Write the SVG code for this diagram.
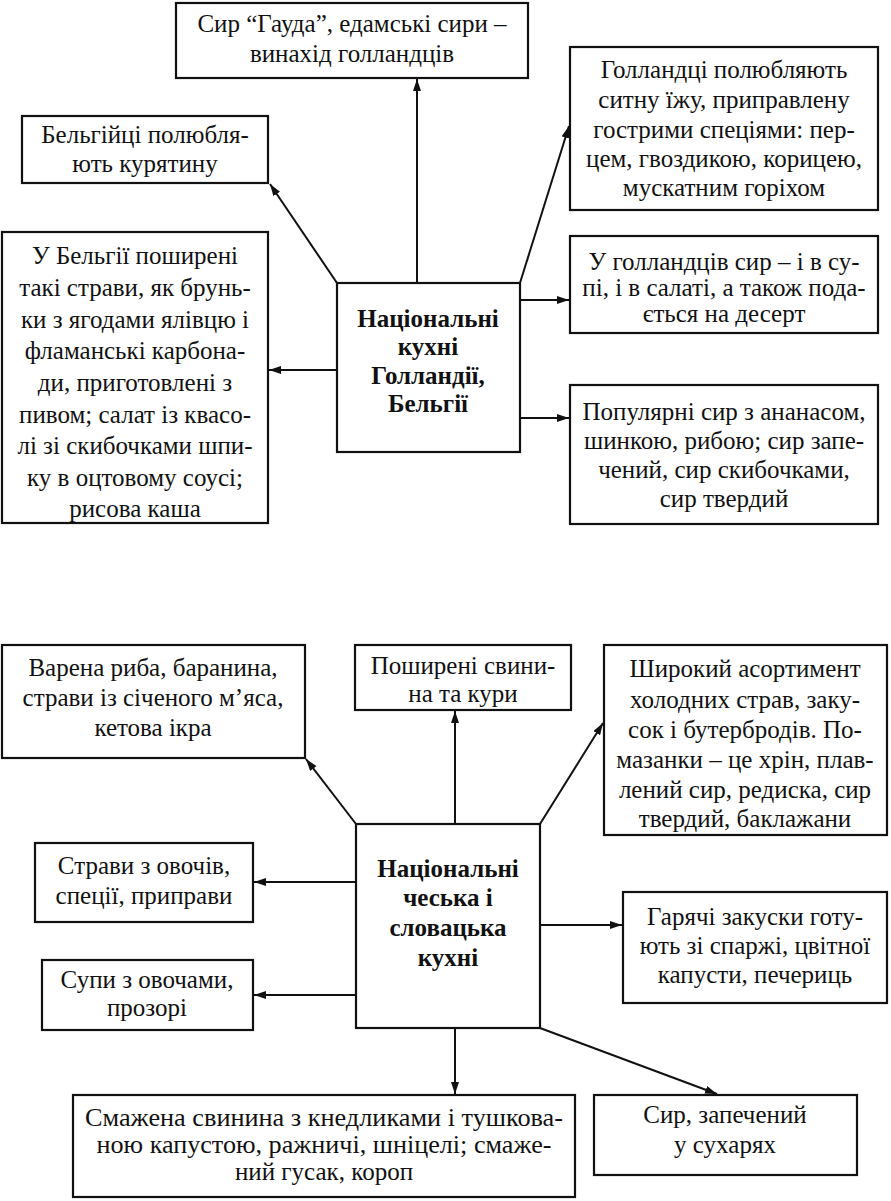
<svg xmlns="http://www.w3.org/2000/svg" width="891" height="1201" viewBox="0 0 891 1201">
<style>
.box{fill:#fff;stroke:#111;stroke-width:2.2}
.t{font-size:25px;fill:#111;text-anchor:middle}
.b{font-weight:bold}
.c{stroke:#111;stroke-width:2;fill:none;marker-end:url(#ah)}
</style>
<defs>
<marker id="ah" viewBox="0 0 12 8" refX="12" refY="4" markerWidth="12" markerHeight="8" orient="auto" markerUnits="userSpaceOnUse"><path d="M0,0 L12,4 L0,8 z" fill="#111"/></marker>
</defs>
<rect width="891" height="1201" fill="#fff"/>
<g id="connectors">
<path class="c" d="M417,283 L417,79"/>
<path class="c" d="M337,283 L270,184"/>
<path class="c" d="M520,283 L569,126"/>
<path class="c" d="M520,300 L569,300"/>
<path class="c" d="M520,418 L569,418"/>
<path class="c" d="M337,370 L269,370"/>
<path class="c" d="M455,824 L455,711"/>
<path class="c" d="M356,824 L306,759"/>
<path class="c" d="M540,824 L603,723"/>
<path class="c" d="M356,882 L254,882"/>
<path class="c" d="M356,995 L254,995"/>
<path class="c" d="M540,925 L622,925"/>
<path class="c" d="M455,1028 L455,1094"/>
<path class="c" d="M540,1028 L717,1094"/>
</g>
<g font-family="'Liberation Serif', 'Times New Roman', serif">
<g id="n-gouda">
<rect class="box" x="176" y="3" width="352" height="75"/>
<text class="t" x="352" y="32">Сир “Гауда”, едамські сири –</text>
<text class="t" x="352" y="62">винахід голландців</text>
</g>
<g id="n-belg-chicken">
<rect class="box" x="22" y="116" width="246" height="67"/>
<text class="t" x="145" y="143">Бельгійці полюбля-</text>
<text class="t" x="145" y="172">ють курятину</text>
</g>
<g id="n-dutch-food">
<rect class="box" x="570" y="47" width="308" height="163"/>
<text class="t" x="724" y="78">Голландці полюбляють</text>
<text class="t" x="724" y="108">ситну їжу, приправлену</text>
<text class="t" x="724" y="138">гострими спеціями: пер-</text>
<text class="t" x="724" y="167">цем, гвоздикою, корицею,</text>
<text class="t" x="724" y="196">мускатним горіхом</text>
</g>
<g id="n-belg-dishes">
<rect class="box" x="2" y="232" width="266" height="291"/>
<text class="t" x="135" y="264">У Бельгії поширені</text>
<text class="t" x="135" y="296">такі страви, як брунь-</text>
<text class="t" x="135" y="328">ки з ягодами ялівцю і</text>
<text class="t" x="135" y="359">фламанські карбона-</text>
<text class="t" x="135" y="391">ди, приготовлені з</text>
<text class="t" x="135" y="423">пивом; салат із квасо-</text>
<text class="t" x="135" y="454">лі зі скибочками шпи-</text>
<text class="t" x="135" y="486">ку в оцтовому соусі;</text>
<text class="t" x="135" y="517">рисова каша</text>
</g>
<g id="n-center-nl">
<rect class="box" x="337" y="283" width="183" height="169"/>
<text class="t b" x="428" y="327">Національні</text>
<text class="t b" x="428" y="355">кухні</text>
<text class="t b" x="428" y="384">Голландії,</text>
<text class="t b" x="428" y="412">Бельгії</text>
</g>
<g id="n-dutch-cheese">
<rect class="box" x="570" y="236" width="308" height="97"/>
<text class="t" x="724" y="270">У голландців сир – і в су-</text>
<text class="t" x="724" y="296">пі, і в салаті, а також пода-</text>
<text class="t" x="724" y="322">ється на десерт</text>
</g>
<g id="n-popular-cheese">
<rect class="box" x="570" y="385" width="308" height="139"/>
<text class="t" x="724" y="420">Популярні сир з ананасом,</text>
<text class="t" x="724" y="449">шинкою, рибою; сир запе-</text>
<text class="t" x="724" y="478">чений, сир скибочками,</text>
<text class="t" x="724" y="507">сир твердий</text>
</g>
<g id="n-fish">
<rect class="box" x="2" y="645" width="303" height="113"/>
<text class="t" x="153" y="676">Варена риба, баранина,</text>
<text class="t" x="153" y="706">страви із січеного м’яса,</text>
<text class="t" x="153" y="736">кетова ікра</text>
</g>
<g id="n-pork">
<rect class="box" x="355" y="645" width="216" height="65"/>
<text class="t" x="463" y="674">Поширені свини-</text>
<text class="t" x="463" y="702">на та кури</text>
</g>
<g id="n-cold">
<rect class="box" x="604" y="645" width="283" height="190"/>
<text class="t" x="745" y="677">Широкий асортимент</text>
<text class="t" x="745" y="708">холодних страв, заку-</text>
<text class="t" x="745" y="738">сок і бутербродів. По-</text>
<text class="t" x="745" y="768">мазанки – це хрін, плав-</text>
<text class="t" x="745" y="798">лений сир, редиска, сир</text>
<text class="t" x="745" y="827">твердий, баклажани</text>
</g>
<g id="n-center-cz">
<rect class="box" x="356" y="824" width="184" height="204"/>
<text class="t b" x="448" y="877">Національні</text>
<text class="t b" x="448" y="906">чеська і</text>
<text class="t b" x="448" y="936">словацька</text>
<text class="t b" x="448" y="966">кухні</text>
</g>
<g id="n-veg">
<rect class="box" x="35" y="843" width="218" height="79"/>
<text class="t" x="144" y="874">Страви з овочів,</text>
<text class="t" x="144" y="904">спеції, приправи</text>
</g>
<g id="n-soup">
<rect class="box" x="42" y="960" width="211" height="70"/>
<text class="t" x="147" y="988">Супи з овочами,</text>
<text class="t" x="147" y="1016">прозорі</text>
</g>
<g id="n-hot">
<rect class="box" x="623" y="892" width="264" height="111"/>
<text class="t" x="755" y="925">Гарячі закуски готу-</text>
<text class="t" x="755" y="954">ють зі спаржі, цвітної</text>
<text class="t" x="755" y="983">капусти, печериць</text>
</g>
<g id="n-roast">
<rect class="box" x="73" y="1095" width="502" height="102"/>
<text class="t" x="324" y="1126" textLength="478" lengthAdjust="spacingAndGlyphs">Смажена свинина з кнедликами і тушкова-</text>
<text class="t" x="324" y="1153" textLength="455" lengthAdjust="spacingAndGlyphs">ною капустою, ражничі, шніцелі; смаже-</text>
<text class="t" x="324" y="1180">ний гусак, короп</text>
</g>
<g id="n-cheese-crumbs">
<rect class="box" x="594" y="1095" width="263" height="80"/>
<text class="t" x="725" y="1123">Сир, запечений</text>
<text class="t" x="725" y="1153">у сухарях</text>
</g>
</g>
</svg>
